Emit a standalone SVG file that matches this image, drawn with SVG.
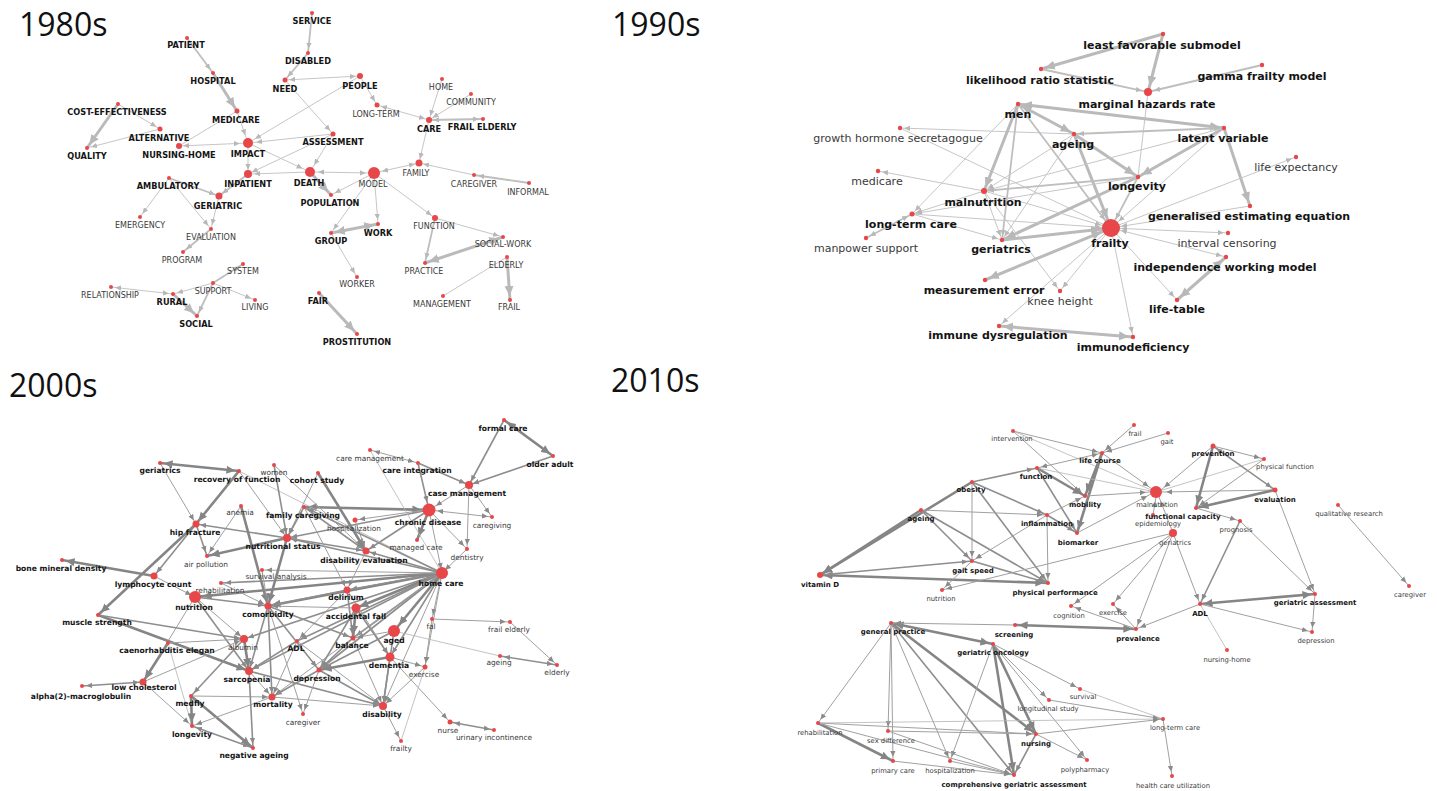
<svg xmlns="http://www.w3.org/2000/svg" width="1437" height="791" viewBox="0 0 1437 791">
<style>
.t{font-family:"Open Sans","Noto Sans",sans-serif;font-size:32px;fill:#111}
.dot{fill:#e8474a}
text.b,text.n{font-family:"DejaVu Sans",Verdana,sans-serif;text-anchor:middle}
.b{font-weight:bold;fill:#141414}
.n{fill:#3a3a3a}
.p80 .b{font-size:8.2px}.p80 .n{font-size:8px}
.p90 .b,.p90 .n{font-size:11px}
.p00 .b{font-size:7.6px}.p00 .n{font-size:7.4px}
.p10 .b{font-size:7px}.p10 .n{font-size:6.8px}
line{fill:none}
.L0,.L1{stroke:#c6c6c6;stroke-width:1}
.L2{stroke:#bebebe;stroke-width:1.8}
.L3{stroke:#bababa;stroke-width:3}
.L1,.L2{marker-end:url(#la)}
.L3{marker-end:url(#lA)}
.L1.s,.L2.s{marker-start:url(#la)}
.L3.s{marker-start:url(#lA)}
.D0{stroke:#b4b4b4;stroke-width:.8}
.D1{stroke:#a0a0a0;stroke-width:1;marker-end:url(#da)}
.D2{stroke:#8e8e8e;stroke-width:1.6;marker-end:url(#da)}
.D3{stroke:#858585;stroke-width:2.6;marker-end:url(#dA)}
.D1.s,.D2.s{marker-start:url(#da)}
.D3.s{marker-start:url(#dA)}
</style>
<defs>
<marker id="la" viewBox="0 0 10 10" refX="17" refY="5" markerWidth="6" markerHeight="6" markerUnits="userSpaceOnUse" orient="auto-start-reverse"><path d="M0,0.5L10,5L0,9.5z" fill="#b8b8b8"/></marker>
<marker id="lA" viewBox="0 0 10 10" refX="14" refY="5" markerWidth="10" markerHeight="10" markerUnits="userSpaceOnUse" orient="auto-start-reverse"><path d="M0,0.5L10,5L0,9.5z" fill="#b8b8b8"/></marker>
<marker id="da" viewBox="0 0 10 10" refX="17" refY="5" markerWidth="6" markerHeight="6" markerUnits="userSpaceOnUse" orient="auto-start-reverse"><path d="M0,0.5L10,5L0,9.5z" fill="#8a8a8a"/></marker>
<marker id="dA" viewBox="0 0 10 10" refX="14" refY="5" markerWidth="9" markerHeight="9" markerUnits="userSpaceOnUse" orient="auto-start-reverse"><path d="M0,0.5L10,5L0,9.5z" fill="#858585"/></marker>
</defs>
<rect width="1437" height="791" fill="#fff"/>
<text class="t" x="19" y="36">1980s</text>
<text class="t" x="612" y="36">1990s</text>
<text class="t" x="9" y="397">2000s</text>
<text class="t" x="611" y="392">2010s</text>

<!-- ===== 1980s ===== -->
<g id="p1980" class="p80">
<g id="e1980">
<line class="L2" x1="187" y1="38" x2="213" y2="73"/>
<line class="L3" x1="213" y1="73" x2="237" y2="111"/>
<line class="L1" x1="237" y1="111" x2="246.7" y2="139.2"/>
<line class="L0" x1="237" y1="111" x2="179" y2="146"/>
<line class="L3" x1="118" y1="104" x2="87" y2="148"/>
<line class="L1" x1="118" y1="104" x2="160" y2="129"/>
<line class="L1" x1="160" y1="129" x2="87" y2="148"/>
<line class="L1 s" x1="179" y1="146" x2="244" y2="143.2"/>
<line class="L1" x1="248" y1="143" x2="248" y2="174"/>
<line class="L1" x1="360" y1="76" x2="251.4" y2="141"/>
<line class="L1" x1="333" y1="134" x2="252" y2="142.6"/>
<line class="L1" x1="248" y1="143" x2="306.4" y2="170.3"/>
<line class="L1" x1="333" y1="134" x2="248" y2="174"/>
<line class="L1" x1="310" y1="172" x2="250" y2="174"/>
<line class="L1" x1="333" y1="134" x2="312" y2="168.6"/>
<line class="L1" x1="285" y1="80" x2="333" y2="134"/>
<line class="L2" x1="312" y1="13" x2="308" y2="53"/>
<line class="L2" x1="308" y1="53" x2="285" y2="80"/>
<line class="L1 s" x1="285" y1="80" x2="360" y2="76"/>
<line class="L1" x1="360" y1="76" x2="377" y2="105"/>
<line class="L1 s" x1="377" y1="105" x2="429" y2="120"/>
<line class="L1" x1="442" y1="79" x2="429" y2="120"/>
<line class="L1" x1="471" y1="94" x2="429" y2="120"/>
<line class="L2 s" x1="429" y1="120" x2="483" y2="119"/>
<line class="L1" x1="429" y1="120" x2="419" y2="163"/>
<line class="L1 s" x1="377.9" y1="172.1" x2="419" y2="163"/>
<line class="L1" x1="474" y1="175" x2="419" y2="163"/>
<line class="L2" x1="529" y1="183" x2="474" y2="175"/>
<line class="L1 s" x1="370" y1="173" x2="314" y2="172"/>
<line class="L3" x1="310" y1="172" x2="331" y2="195"/>
<line class="L1" x1="374" y1="173" x2="331" y2="195"/>
<line class="L1" x1="374" y1="173" x2="331" y2="233"/>
<line class="L1" x1="374" y1="173" x2="378" y2="224"/>
<line class="L1" x1="374" y1="173" x2="435" y2="218"/>
<line class="L3 s" x1="331" y1="233" x2="378" y2="224"/>
<line class="L1" x1="331" y1="233" x2="357" y2="277"/>
<line class="L2" x1="435" y1="218" x2="425" y2="263"/>
<line class="L1" x1="435" y1="218" x2="503" y2="237"/>
<line class="L3 s" x1="503" y1="237" x2="425" y2="263"/>
<line class="L0" x1="507" y1="257" x2="443" y2="296"/>
<line class="L3" x1="507" y1="257" x2="510" y2="300"/>
<line class="L3" x1="319" y1="293" x2="357" y2="334"/>
<line class="L2" x1="248" y1="174" x2="219" y2="196"/>
<line class="L2" x1="169" y1="178" x2="219" y2="196"/>
<line class="L1" x1="169" y1="178" x2="140" y2="217"/>
<line class="L1" x1="169" y1="178" x2="211" y2="229"/>
<line class="L1" x1="219" y1="196" x2="211" y2="229"/>
<line class="L2" x1="211" y1="229" x2="183" y2="252"/>
<line class="L2" x1="213" y1="283" x2="243" y2="264"/>
<line class="L1" x1="213" y1="283" x2="173" y2="294"/>
<line class="L1 s" x1="111" y1="287" x2="173" y2="294"/>
<line class="L1" x1="213" y1="283" x2="255" y2="300"/>
<line class="L2" x1="213" y1="283" x2="197" y2="316"/>
<line class="L3" x1="173" y1="294" x2="197" y2="316"/>
</g>
<g id="n80-service"><circle class="dot" cx="312" cy="13" r="2"/><text class="b" x="312" y="24">SERVICE</text></g>
<g id="n80-patient"><circle class="dot" cx="187" cy="38" r="2"/><text class="b" x="186" y="48">PATIENT</text></g>
<g id="n80-disabled"><circle class="dot" cx="308" cy="53" r="2"/><text class="b" x="308" y="64">DISABLED</text></g>
<g id="n80-hospital"><circle class="dot" cx="213" cy="73" r="2"/><text class="b" x="213" y="84">HOSPITAL</text></g>
<g id="n80-need"><circle class="dot" cx="285" cy="80" r="2.5"/><text class="b" x="285" y="92">NEED</text></g>
<g id="n80-people"><circle class="dot" cx="360" cy="76" r="3"/><text class="b" x="360" y="89">PEOPLE</text></g>
<g id="n80-home"><circle class="dot" cx="442" cy="79" r="2"/><text class="n" x="441" y="90">HOME</text></g>
<g id="n80-community"><circle class="dot" cx="471" cy="94" r="2"/><text class="n" x="471" y="105">COMMUNITY</text></g>
<g id="n80-longterm"><circle class="dot" cx="377" cy="105" r="2.5"/><text class="n" x="376" y="117">LONG-TERM</text></g>
<g id="n80-care"><circle class="dot" cx="429" cy="120" r="3"/><text class="b" x="429" y="132">CARE</text></g>
<g id="n80-frailelderly"><circle class="dot" cx="483" cy="119" r="2"/><text class="b" x="482" y="130">FRAIL ELDERLY</text></g>
<g id="n80-costeff"><circle class="dot" cx="118" cy="104" r="2"/><text class="b" x="117" y="115">COST-EFFECTIVENESS</text></g>
<g id="n80-medicare"><circle class="dot" cx="237" cy="111" r="2.5"/><text class="b" x="236" y="123">MEDICARE</text></g>
<g id="n80-alternative"><circle class="dot" cx="160" cy="129" r="2.5"/><text class="b" x="159" y="141">ALTERNATIVE</text></g>
<g id="n80-impact"><circle class="dot" cx="248" cy="143" r="5"/><text class="b" x="248" y="157">IMPACT</text></g>
<g id="n80-quality"><circle class="dot" cx="87" cy="148" r="2"/><text class="b" x="87" y="159">QUALITY</text></g>
<g id="n80-nursinghome"><circle class="dot" cx="179" cy="146" r="3"/><text class="b" x="179" y="158">NURSING-HOME</text></g>
<g id="n80-assessment"><circle class="dot" cx="333" cy="134" r="2.5"/><text class="b" x="333" y="145">ASSESSMENT</text></g>
<g id="n80-inpatient"><circle class="dot" cx="248" cy="174" r="4"/><text class="b" x="248" y="187">INPATIENT</text></g>
<g id="n80-death"><circle class="dot" cx="310" cy="172" r="5"/><text class="b" x="309" y="186">DEATH</text></g>
<g id="n80-model"><circle class="dot" cx="374" cy="173" r="6"/><text class="n" x="373" y="187">MODEL</text></g>
<g id="n80-family"><circle class="dot" cx="419" cy="163" r="3.5"/><text class="n" x="416" y="176">FAMILY</text></g>
<g id="n80-caregiver"><circle class="dot" cx="474" cy="175" r="2"/><text class="n" x="474" y="187">CAREGIVER</text></g>
<g id="n80-informal"><circle class="dot" cx="529" cy="183" r="2"/><text class="n" x="528" y="195">INFORMAL</text></g>
<g id="n80-ambulatory"><circle class="dot" cx="169" cy="178" r="2"/><text class="b" x="168" y="189">AMBULATORY</text></g>
<g id="n80-geriatric"><circle class="dot" cx="219" cy="196" r="3.5"/><text class="b" x="218" y="209">GERIATRIC</text></g>
<g id="n80-population"><circle class="dot" cx="331" cy="195" r="2"/><text class="b" x="330" y="206">POPULATION</text></g>
<g id="n80-emergency"><circle class="dot" cx="140" cy="217" r="2"/><text class="n" x="140" y="228">EMERGENCY</text></g>
<g id="n80-evaluation"><circle class="dot" cx="211" cy="229" r="2"/><text class="n" x="211" y="240">EVALUATION</text></g>
<g id="n80-function"><circle class="dot" cx="435" cy="218" r="3"/><text class="n" x="434" y="229">FUNCTION</text></g>
<g id="n80-work"><circle class="dot" cx="378" cy="224" r="2"/><text class="b" x="378" y="236">WORK</text></g>
<g id="n80-group"><circle class="dot" cx="331" cy="233" r="2"/><text class="b" x="331" y="244">GROUP</text></g>
<g id="n80-socialwork"><circle class="dot" cx="503" cy="237" r="2"/><text class="n" x="503" y="247">SOCIAL-WORK</text></g>
<g id="n80-program"><circle class="dot" cx="183" cy="252" r="2"/><text class="n" x="182" y="263">PROGRAM</text></g>
<g id="n80-elderly"><circle class="dot" cx="507" cy="257" r="2"/><text class="n" x="506" y="268">ELDERLY</text></g>
<g id="n80-practice"><circle class="dot" cx="425" cy="263" r="2"/><text class="n" x="424" y="274">PRACTICE</text></g>
<g id="n80-system"><circle class="dot" cx="243" cy="264" r="2"/><text class="n" x="243" y="274">SYSTEM</text></g>
<g id="n80-support"><circle class="dot" cx="213" cy="283" r="2"/><text class="n" x="213" y="294">SUPPORT</text></g>
<g id="n80-relationship"><circle class="dot" cx="111" cy="287" r="2"/><text class="n" x="110" y="298">RELATIONSHIP</text></g>
<g id="n80-rural"><circle class="dot" cx="173" cy="294" r="2"/><text class="b" x="172" y="305">RURAL</text></g>
<g id="n80-living"><circle class="dot" cx="255" cy="300" r="2"/><text class="n" x="255" y="310">LIVING</text></g>
<g id="n80-social"><circle class="dot" cx="197" cy="316" r="2"/><text class="b" x="196" y="327">SOCIAL</text></g>
<g id="n80-worker"><circle class="dot" cx="357" cy="277" r="2"/><text class="n" x="357" y="287">WORKER</text></g>
<g id="n80-fair"><circle class="dot" cx="319" cy="293" r="2"/><text class="b" x="318" y="304">FAIR</text></g>
<g id="n80-management"><circle class="dot" cx="443" cy="296" r="2"/><text class="n" x="442" y="307">MANAGEMENT</text></g>
<g id="n80-frail"><circle class="dot" cx="510" cy="300" r="2"/><text class="n" x="509" y="310">FRAIL</text></g>
<g id="n80-prostitution"><circle class="dot" cx="357" cy="334" r="2"/><text class="b" x="357" y="345">PROSTITUTION</text></g>
</g>

<!-- ===== 1990s ===== -->
<g id="p1990" class="p90">
<g id="e1990">
<line class="L3" x1="1163" y1="34" x2="1041" y2="69"/>
<line class="L3" x1="1163" y1="34" x2="1148.5" y2="90"/>
<line class="L2" x1="1041" y1="69" x2="1146" y2="91.6"/>
<line class="L2" x1="1262" y1="65" x2="1150" y2="91.5"/>
<line class="L0" x1="1148" y1="92" x2="1138" y2="177"/>
<line class="L3 s" x1="1018" y1="104" x2="1224" y2="128"/>
<line class="L2 s" x1="1224" y1="128" x2="1074" y2="134"/>
<line class="L1" x1="1074" y1="134" x2="900" y2="128"/>
<line class="L0" x1="900" y1="128" x2="1111" y2="228"/>
<line class="L3 s" x1="1018" y1="104" x2="1074" y2="134"/>
<line class="L1" x1="984" y1="191" x2="878" y2="171"/>
<line class="L3" x1="1018" y1="104" x2="984" y2="191"/>
<line class="L2" x1="1018" y1="104" x2="1002" y2="240"/>
<line class="L1" x1="1018" y1="104" x2="912" y2="214"/>
<line class="L2" x1="1018" y1="104" x2="1107.4" y2="223.2"/>
<line class="L1" x1="1074" y1="134" x2="984" y2="191"/>
<line class="L1" x1="1074" y1="134" x2="1002" y2="240"/>
<line class="L3" x1="1074" y1="134" x2="1138" y2="177"/>
<line class="L3" x1="1074" y1="134" x2="1108.8" y2="222.4"/>
<line class="L3" x1="1224" y1="128" x2="1138" y2="177"/>
<line class="L3" x1="1224" y1="128" x2="1250" y2="206"/>
<line class="L1" x1="1224" y1="128" x2="1115.5" y2="224"/>
<line class="L1" x1="1224" y1="128" x2="984" y2="191"/>
<line class="L2" x1="1138" y1="177" x2="1113.8" y2="222.7"/>
<line class="L2" x1="1138" y1="177" x2="984" y2="191"/>
<line class="L3" x1="1138" y1="177" x2="1002" y2="240"/>
<line class="L1" x1="1138" y1="177" x2="912" y2="214"/>
<line class="L1" x1="984" y1="191" x2="912" y2="214"/>
<line class="L1" x1="984" y1="191" x2="1002" y2="240"/>
<line class="L1" x1="984" y1="191" x2="1105.2" y2="226.3"/>
<line class="L1" x1="984" y1="191" x2="1060" y2="291"/>
<line class="L2 s" x1="912" y1="214" x2="866" y2="238"/>
<line class="L1" x1="912" y1="214" x2="1002" y2="240"/>
<line class="L1" x1="912" y1="214" x2="1105" y2="227.6"/>
<line class="L3" x1="1002" y1="240" x2="1105" y2="228.7"/>
<line class="L3 s" x1="1105.5" y1="230.3" x2="985" y2="280"/>
<line class="L1" x1="1111" y1="228" x2="1060" y2="291"/>
<line class="L1" x1="1111" y1="228" x2="999" y2="326"/>
<line class="L1" x1="1111" y1="228" x2="1133" y2="337"/>
<line class="L1" x1="1111" y1="228" x2="1177" y2="300"/>
<line class="L1 s" x1="1117" y1="228.3" x2="1228" y2="233"/>
<line class="L1 s" x1="1116.8" y1="229.5" x2="1226" y2="257"/>
<line class="L1" x1="1250" y1="206" x2="1117" y2="227"/>
<line class="L1" x1="1111" y1="228" x2="1296" y2="157"/>
<line class="L3 s" x1="1226" y1="257" x2="1177" y2="300"/>
<line class="L3 s" x1="999" y1="326" x2="1133" y2="337"/>
</g>
<g id="n90-lfs"><circle class="dot" cx="1163" cy="34" r="2.2"/><text class="b" x="1162" y="49">least favorable submodel</text></g>
<g id="n90-lrs"><circle class="dot" cx="1041" cy="69" r="2.2"/><text class="b" x="1040" y="84">likelihood ratio statistic</text></g>
<g id="n90-gfm"><circle class="dot" cx="1262" cy="65" r="2.2"/><text class="b" x="1262" y="80">gamma frailty model</text></g>
<g id="n90-mhr"><circle class="dot" cx="1148" cy="92" r="4"/><text class="b" x="1147" y="108">marginal hazards rate</text></g>
<g id="n90-men"><circle class="dot" cx="1018" cy="104" r="2.2"/><text class="b" x="1018" y="118">men</text></g>
<g id="n90-ghs"><circle class="dot" cx="900" cy="128" r="2.2"/><text class="n" x="898" y="142">growth hormone secretagogue</text></g>
<g id="n90-ageing"><circle class="dot" cx="1074" cy="134" r="2.2"/><text class="b" x="1073" y="148">ageing</text></g>
<g id="n90-lv"><circle class="dot" cx="1224" cy="128" r="2.2"/><text class="b" x="1223" y="142">latent variable</text></g>
<g id="n90-le"><circle class="dot" cx="1296" cy="157" r="2.2"/><text class="n" x="1296" y="171">life expectancy</text></g>
<g id="n90-medicare"><circle class="dot" cx="878" cy="171" r="2.2"/><text class="n" x="877" y="185">medicare</text></g>
<g id="n90-longevity"><circle class="dot" cx="1138" cy="177" r="2.2"/><text class="b" x="1137" y="190">longevity</text></g>
<g id="n90-malnutrition"><circle class="dot" cx="984" cy="191" r="3"/><text class="b" x="983" y="206">malnutrition</text></g>
<g id="n90-gee"><circle class="dot" cx="1250" cy="206" r="2.2"/><text class="b" x="1249" y="220">generalised estimating equation</text></g>
<g id="n90-ltc"><circle class="dot" cx="912" cy="214" r="2.5"/><text class="b" x="911" y="228">long-term care</text></g>
<g id="n90-frailty"><circle class="dot" cx="1111" cy="228" r="9"/><text class="b" x="1110" y="247">frailty</text></g>
<g id="n90-ic"><circle class="dot" cx="1228" cy="233" r="2.2"/><text class="n" x="1227" y="247">interval censoring</text></g>
<g id="n90-ms"><circle class="dot" cx="866" cy="238" r="2.2"/><text class="n" x="866" y="252">manpower support</text></g>
<g id="n90-geriatrics"><circle class="dot" cx="1002" cy="240" r="2.2"/><text class="b" x="1001" y="253">geriatrics</text></g>
<g id="n90-iwm"><circle class="dot" cx="1226" cy="257" r="2.2"/><text class="b" x="1225" y="271">independence working model</text></g>
<g id="n90-me"><circle class="dot" cx="985" cy="280" r="2.2"/><text class="b" x="984" y="294">measurement error</text></g>
<g id="n90-kh"><circle class="dot" cx="1060" cy="291" r="2.2"/><text class="n" x="1060" y="305">knee height</text></g>
<g id="n90-lt"><circle class="dot" cx="1177" cy="300" r="2.2"/><text class="b" x="1177" y="313">life-table</text></g>
<g id="n90-id"><circle class="dot" cx="999" cy="326" r="2.2"/><text class="b" x="998" y="339">immune dysregulation</text></g>
<g id="n90-imd"><circle class="dot" cx="1133" cy="337" r="2.2"/><text class="b" x="1133" y="351">immunodeficiency</text></g>
</g>

<!-- ===== 2000s ===== -->
<g id="p2000" class="p00">
<g id="e2000">
<line class="D3 s" x1="504" y1="420" x2="553" y2="456"/>
<line class="D2" x1="504" y1="420" x2="469" y2="485"/>
<line class="D2" x1="553" y1="456" x2="469" y2="485"/>
<line class="D1 s" x1="370" y1="450" x2="418" y2="463"/>
<line class="D2" x1="418" y1="463" x2="469" y2="485"/>
<line class="D2" x1="418" y1="463" x2="428.1" y2="506.1"/>
<line class="D1" x1="469" y1="485" x2="432.4" y2="507.9"/>
<line class="D1" x1="469" y1="485" x2="492" y2="517"/>
<line class="D1" x1="469" y1="485" x2="467" y2="549"/>
<line class="D1 s" x1="433" y1="510.4" x2="492" y2="517"/>
<line class="D1" x1="429" y1="510" x2="467" y2="549"/>
<line class="D3 s" x1="425" y1="509.9" x2="304" y2="507"/>
<line class="D3" x1="429" y1="510" x2="417" y2="540"/>
<line class="D2" x1="429" y1="510" x2="366" y2="551"/>
<line class="D2" x1="429" y1="510" x2="287" y2="538"/>
<line class="D1" x1="429" y1="510" x2="442" y2="573"/>
<line class="D1" x1="425" y1="510" x2="355" y2="520"/>
<line class="D1" x1="467" y1="549" x2="442" y2="573"/>
<line class="D0" x1="370" y1="450" x2="442" y2="573"/>
<line class="D3 s" x1="160" y1="463" x2="239" y2="471"/>
<line class="D1" x1="160" y1="463" x2="196" y2="524"/>
<line class="D3" x1="239" y1="471" x2="196" y2="524"/>
<line class="D0" x1="239" y1="471" x2="442" y2="573"/>
<line class="D1" x1="239" y1="471" x2="287" y2="538"/>
<line class="D2" x1="274" y1="465" x2="287" y2="538"/>
<line class="D1" x1="274" y1="465" x2="366" y2="551"/>
<line class="D3" x1="318" y1="473" x2="366" y2="551"/>
<line class="D1" x1="318" y1="473" x2="287" y2="538"/>
<line class="D1" x1="355" y1="520" x2="366" y2="551"/>
<line class="D2" x1="196" y1="524" x2="207" y2="556"/>
<line class="D1" x1="241" y1="506" x2="207" y2="556"/>
<line class="D3" x1="287" y1="538" x2="207" y2="556"/>
<line class="D2" x1="287" y1="538" x2="196" y2="524"/>
<line class="D2" x1="196" y1="524" x2="154" y2="576"/>
<line class="D3" x1="154" y1="576" x2="62" y2="560"/>
<line class="D3" x1="196" y1="524" x2="98" y2="615"/>
<line class="D2" x1="442" y1="573" x2="287" y2="538"/>
<line class="D2" x1="442" y1="573" x2="304" y2="507"/>
<line class="D3" x1="442" y1="573" x2="268" y2="606"/>
<line class="D2" x1="442" y1="573" x2="347" y2="590"/>
<line class="D3" x1="442" y1="573" x2="356" y2="608"/>
<line class="D3" x1="442" y1="573" x2="199" y2="596.6"/>
<line class="D2" x1="442" y1="573" x2="221" y2="583"/>
<line class="D1" x1="442" y1="573" x2="262" y2="570"/>
<line class="D2" x1="442" y1="573" x2="297" y2="641"/>
<line class="D2" x1="442" y1="573" x2="319" y2="670"/>
<line class="D2" x1="442" y1="573" x2="353" y2="638"/>
<line class="D2" x1="442" y1="573" x2="390" y2="657"/>
<line class="D3" x1="442" y1="573" x2="396.5" y2="628"/>
<line class="D2" x1="442" y1="573" x2="249" y2="671"/>
<line class="D1" x1="442" y1="573" x2="272" y2="697"/>
<line class="D2" x1="442" y1="573" x2="366" y2="551"/>
<line class="D1" x1="442" y1="573" x2="383" y2="706"/>
<line class="D1" x1="442" y1="573" x2="432" y2="619"/>
<line class="D1" x1="442" y1="573" x2="425" y2="667"/>
<line class="D2" x1="442" y1="573" x2="244" y2="639"/>
<line class="D3" x1="287" y1="538" x2="268" y2="606"/>
<line class="D2" x1="287" y1="538" x2="366" y2="551"/>
<line class="D2 s" x1="304" y1="507" x2="287" y2="538"/>
<line class="D2" x1="304" y1="507" x2="366" y2="551"/>
<line class="D1" x1="304" y1="507" x2="347" y2="590"/>
<line class="D3" x1="241" y1="506" x2="268" y2="606"/>
<line class="D1" x1="366" y1="551" x2="347" y2="590"/>
<line class="D2" x1="347" y1="590" x2="268" y2="606"/>
<line class="D2" x1="347" y1="590" x2="353" y2="638"/>
<line class="D1" x1="347" y1="590" x2="297" y2="641"/>
<line class="D1" x1="347" y1="590" x2="390" y2="657"/>
<line class="D3" x1="356" y1="608" x2="353" y2="638"/>
<line class="D2" x1="356" y1="608" x2="390" y2="657"/>
<line class="D2" x1="356" y1="608" x2="319" y2="670"/>
<line class="D1" x1="356" y1="608" x2="268" y2="606"/>
<line class="D2" x1="268" y1="606" x2="249" y2="671"/>
<line class="D2" x1="268" y1="606" x2="272" y2="697"/>
<line class="D2" x1="268" y1="606" x2="319" y2="670"/>
<line class="D1" x1="268" y1="606" x2="303" y2="714"/>
<line class="D2" x1="268" y1="606" x2="353" y2="638"/>
<line class="D2" x1="195" y1="597" x2="268" y2="606"/>
<line class="D1" x1="195" y1="597" x2="244" y2="639"/>
<line class="D2" x1="195" y1="597" x2="249" y2="671"/>
<line class="D1" x1="195" y1="597" x2="143" y2="682"/>
<line class="D1" x1="154" y1="576" x2="195" y2="597"/>
<line class="D1" x1="221" y1="583" x2="268" y2="606"/>
<line class="D1" x1="262" y1="570" x2="268" y2="606"/>
<line class="D3" x1="98" y1="615" x2="249" y2="671"/>
<line class="D2" x1="98" y1="615" x2="244" y2="639"/>
<line class="D3" x1="168" y1="643" x2="143" y2="682"/>
<line class="D1" x1="168" y1="643" x2="244" y2="639"/>
<line class="D0" x1="168" y1="643" x2="192" y2="726"/>
<line class="D2 s" x1="82" y1="686" x2="143" y2="682"/>
<line class="D1" x1="143" y1="682" x2="192" y2="726"/>
<line class="D1" x1="143" y1="682" x2="244" y2="639"/>
<line class="D2" x1="244" y1="639" x2="191" y2="696"/>
<line class="D3" x1="244" y1="639" x2="249" y2="671"/>
<line class="D3" x1="191" y1="696" x2="192" y2="726"/>
<line class="D3" x1="191" y1="696" x2="253" y2="748"/>
<line class="D1" x1="191" y1="696" x2="272" y2="697"/>
<line class="D2 s" x1="192" y1="726" x2="253" y2="748"/>
<line class="D1" x1="272" y1="697" x2="192" y2="726"/>
<line class="D2" x1="249" y1="671" x2="253" y2="748"/>
<line class="D1" x1="249" y1="671" x2="272" y2="697"/>
<line class="D2" x1="249" y1="671" x2="383" y2="706"/>
<line class="D1" x1="297" y1="641" x2="272" y2="697"/>
<line class="D1" x1="297" y1="641" x2="383" y2="706"/>
<line class="D2" x1="297" y1="641" x2="249" y2="671"/>
<line class="D1" x1="353" y1="638" x2="383" y2="706"/>
<line class="D2" x1="353" y1="638" x2="319" y2="670"/>
<line class="D2" x1="319" y1="670" x2="383" y2="706"/>
<line class="D1" x1="319" y1="670" x2="303" y2="714"/>
<line class="D2" x1="319" y1="670" x2="272" y2="697"/>
<line class="D2" x1="390" y1="657" x2="383" y2="706"/>
<line class="D3" x1="390" y1="657" x2="319" y2="670"/>
<line class="D1" x1="390" y1="657" x2="425" y2="667"/>
<line class="D1" x1="390" y1="657" x2="450" y2="722"/>
<line class="D2" x1="394" y1="631" x2="383" y2="706"/>
<line class="D0" x1="394" y1="631" x2="500" y2="656"/>
<line class="D2" x1="394" y1="631" x2="319" y2="670"/>
<line class="D1" x1="394" y1="631" x2="353" y2="638"/>
<line class="D1" x1="383" y1="706" x2="401" y2="741"/>
<line class="D0" x1="425" y1="667" x2="401" y2="741"/>
<line class="D1" x1="425" y1="667" x2="383" y2="706"/>
<line class="D1" x1="432" y1="619" x2="510" y2="622"/>
<line class="D1" x1="432" y1="619" x2="425" y2="667"/>
<line class="D1" x1="510" y1="622" x2="557" y2="665"/>
<line class="D2 s" x1="500" y1="656" x2="557" y2="665"/>
<line class="D2 s" x1="450" y1="722" x2="494" y2="730"/>
<line class="D1" x1="272" y1="697" x2="383" y2="706"/>
</g>
<g id="n00-formalcare"><circle class="dot" cx="504" cy="420" r="2"/><text class="b" x="503" y="431">formal care</text></g>
<g id="n00-olderadult"><circle class="dot" cx="553" cy="456" r="2"/><text class="b" x="550" y="467">older adult</text></g>
<g id="n00-caremgmt"><circle class="dot" cx="370" cy="450" r="2"/><text class="n" x="370" y="461">care management</text></g>
<g id="n00-careint"><circle class="dot" cx="418" cy="463" r="2"/><text class="b" x="417" y="473">care integration</text></g>
<g id="n00-geriatrics"><circle class="dot" cx="160" cy="463" r="2"/><text class="b" x="160" y="473">geriatrics</text></g>
<g id="n00-recovery"><circle class="dot" cx="239" cy="471" r="2"/><text class="b" x="237" y="482">recovery of function</text></g>
<g id="n00-women"><circle class="dot" cx="274" cy="465" r="2"/><text class="n" x="274" y="475">women</text></g>
<g id="n00-cohort"><circle class="dot" cx="318" cy="473" r="2"/><text class="b" x="317" y="483">cohort study</text></g>
<g id="n00-casemgmt"><circle class="dot" cx="469" cy="485" r="4"/><text class="b" x="467" y="496">case management</text></g>
<g id="n00-chronic"><circle class="dot" cx="429" cy="510" r="6.5"/><text class="b" x="428" y="525">chronic disease</text></g>
<g id="n00-anemia"><circle class="dot" cx="241" cy="506" r="2"/><text class="n" x="240" y="515">anemia</text></g>
<g id="n00-familycg"><circle class="dot" cx="304" cy="507" r="2"/><text class="b" x="303" y="518">family caregiving</text></g>
<g id="n00-hosp"><circle class="dot" cx="355" cy="520" r="2.5"/><text class="n" x="354" y="531">hospitalization</text></g>
<g id="n00-caregiving"><circle class="dot" cx="492" cy="517" r="2"/><text class="n" x="492" y="528">caregiving</text></g>
<g id="n00-hip"><circle class="dot" cx="196" cy="524" r="3.5"/><text class="b" x="195" y="535">hip fracture</text></g>
<g id="n00-nutstatus"><circle class="dot" cx="287" cy="538" r="4"/><text class="b" x="283" y="549">nutritional status</text></g>
<g id="n00-managed"><circle class="dot" cx="417" cy="540" r="2"/><text class="n" x="416" y="550">managed care</text></g>
<g id="n00-diseval"><circle class="dot" cx="366" cy="551" r="3.5"/><text class="b" x="364" y="563">disability evaluation</text></g>
<g id="n00-dentistry"><circle class="dot" cx="467" cy="549" r="2"/><text class="n" x="467" y="560">dentistry</text></g>
<g id="n00-air"><circle class="dot" cx="207" cy="556" r="2"/><text class="n" x="206" y="567">air pollution</text></g>
<g id="n00-bmd"><circle class="dot" cx="62" cy="560" r="2"/><text class="b" x="61" y="571">bone mineral density</text></g>
<g id="n00-survival"><circle class="dot" cx="262" cy="570" r="2"/><text class="n" x="276" y="579">survival analysis</text></g>
<g id="n00-homecare"><circle class="dot" cx="442" cy="573" r="6"/><text class="b" x="441" y="586">home care</text></g>
<g id="n00-lympho"><circle class="dot" cx="154" cy="576" r="3.5"/><text class="b" x="153" y="587">lymphocyte count</text></g>
<g id="n00-rehab"><circle class="dot" cx="221" cy="583" r="2"/><text class="n" x="220" y="593">rehabilitation</text></g>
<g id="n00-nutrition"><circle class="dot" cx="195" cy="597" r="6"/><text class="b" x="194" y="610">nutrition</text></g>
<g id="n00-delirium"><circle class="dot" cx="347" cy="590" r="3.5"/><text class="b" x="346" y="600">delirium</text></g>
<g id="n00-comorb"><circle class="dot" cx="268" cy="606" r="3.5"/><text class="b" x="268" y="617">comorbidity</text></g>
<g id="n00-accfall"><circle class="dot" cx="356" cy="608" r="4.5"/><text class="b" x="356" y="619">accidental fall</text></g>
<g id="n00-muscle"><circle class="dot" cx="98" cy="615" r="2"/><text class="b" x="97" y="625">muscle strength</text></g>
<g id="n00-fal"><circle class="dot" cx="432" cy="619" r="2"/><text class="n" x="431" y="629">fal</text></g>
<g id="n00-aged"><circle class="dot" cx="394" cy="631" r="6"/><text class="b" x="394" y="643">aged</text></g>
<g id="n00-frailelderly"><circle class="dot" cx="510" cy="622" r="2"/><text class="n" x="509" y="632">frail elderly</text></g>
<g id="n00-albumin"><circle class="dot" cx="244" cy="639" r="4"/><text class="n" x="243" y="650">albumin</text></g>
<g id="n00-adl"><circle class="dot" cx="297" cy="641" r="2"/><text class="b" x="296" y="651">ADL</text></g>
<g id="n00-balance"><circle class="dot" cx="353" cy="638" r="2.5"/><text class="b" x="352" y="648">balance</text></g>
<g id="n00-celegan"><circle class="dot" cx="168" cy="643" r="2"/><text class="b" x="167" y="653">caenorhabditis elegan</text></g>
<g id="n00-dementia"><circle class="dot" cx="390" cy="657" r="4.5"/><text class="b" x="389" y="668">dementia</text></g>
<g id="n00-ageing"><circle class="dot" cx="500" cy="656" r="2"/><text class="n" x="499" y="665">ageing</text></g>
<g id="n00-sarco"><circle class="dot" cx="249" cy="671" r="4"/><text class="b" x="247" y="682">sarcopenia</text></g>
<g id="n00-depression"><circle class="dot" cx="319" cy="670" r="2.5"/><text class="b" x="317" y="681">depression</text></g>
<g id="n00-exercise"><circle class="dot" cx="425" cy="667" r="2.5"/><text class="n" x="424" y="677">exercise</text></g>
<g id="n00-elderly"><circle class="dot" cx="557" cy="665" r="2"/><text class="n" x="557" y="675">elderly</text></g>
<g id="n00-lowchol"><circle class="dot" cx="143" cy="682" r="3.5"/><text class="b" x="144" y="690">low cholesterol</text></g>
<g id="n00-alpha"><circle class="dot" cx="82" cy="686" r="2"/><text class="b" x="81" y="699">alpha(2)-macroglobulin</text></g>
<g id="n00-medfly"><circle class="dot" cx="191" cy="696" r="2"/><text class="b" x="190" y="706">medfly</text></g>
<g id="n00-mortality"><circle class="dot" cx="272" cy="697" r="3.5"/><text class="b" x="273" y="707">mortality</text></g>
<g id="n00-disability"><circle class="dot" cx="383" cy="706" r="4"/><text class="b" x="382" y="717">disability</text></g>
<g id="n00-caregiver"><circle class="dot" cx="303" cy="714" r="2"/><text class="n" x="303" y="725">caregiver</text></g>
<g id="n00-longevity"><circle class="dot" cx="192" cy="726" r="2"/><text class="b" x="192" y="737">longevity</text></g>
<g id="n00-nurse"><circle class="dot" cx="450" cy="722" r="2.5"/><text class="n" x="448" y="733">nurse</text></g>
<g id="n00-urinary"><circle class="dot" cx="494" cy="730" r="2"/><text class="n" x="494" y="740">urinary incontinence</text></g>
<g id="n00-negageing"><circle class="dot" cx="253" cy="748" r="2"/><text class="b" x="254" y="758">negative ageing</text></g>
<g id="n00-frailty"><circle class="dot" cx="401" cy="741" r="2"/><text class="n" x="401" y="751">frailty</text></g>
</g>

<!-- ===== 2010s ===== -->
<g id="p2010" class="p10">
<g id="e2010">
<line class="D1" x1="1013" y1="431" x2="1102" y2="453"/>
<line class="D1" x1="1013" y1="431" x2="1085" y2="496"/>
<line class="D0" x1="1013" y1="431" x2="1156" y2="492"/>
<line class="D1 s" x1="1037" y1="468" x2="1102" y2="453"/>
<line class="D3" x1="1037" y1="468" x2="1085" y2="496"/>
<line class="D2" x1="1037" y1="468" x2="1077" y2="533"/>
<line class="D3" x1="1102" y1="453" x2="1085" y2="496"/>
<line class="D3" x1="1102" y1="453" x2="1077" y2="533"/>
<line class="D2" x1="972" y1="482" x2="1037" y2="468"/>
<line class="D2" x1="972" y1="482" x2="1047" y2="515"/>
<line class="D1" x1="972" y1="482" x2="972" y2="561"/>
<line class="D2" x1="972" y1="482" x2="1048" y2="583"/>
<line class="D3" x1="972" y1="482" x2="820" y2="575"/>
<line class="D3" x1="921" y1="510" x2="820" y2="575"/>
<line class="D3 s" x1="820" y1="575" x2="1048" y2="583"/>
<line class="D2" x1="820" y1="575" x2="972" y2="561"/>
<line class="D2" x1="921" y1="510" x2="972" y2="561"/>
<line class="D2" x1="921" y1="510" x2="1048" y2="583"/>
<line class="D1" x1="921" y1="510" x2="1047" y2="515"/>
<line class="D2" x1="1047" y1="515" x2="1077" y2="533"/>
<line class="D1" x1="1047" y1="515" x2="972" y2="561"/>
<line class="D1" x1="1047" y1="515" x2="1085" y2="496"/>
<line class="D1" x1="1047" y1="515" x2="1048" y2="583"/>
<line class="D2" x1="972" y1="561" x2="1048" y2="583"/>
<line class="D1" x1="972" y1="561" x2="942" y2="590"/>
<line class="D1" x1="1134" y1="425" x2="1102" y2="453"/>
<line class="D1" x1="1168" y1="433" x2="1102" y2="453"/>
<line class="D1" x1="1102" y1="453" x2="1152" y2="489"/>
<line class="D1" x1="1085" y1="496" x2="1150" y2="492"/>
<line class="D0" x1="1037" y1="468" x2="1156" y2="492"/>
<line class="D1" x1="1213" y1="446" x2="1161" y2="490"/>
<line class="D1" x1="1275" y1="490" x2="1162" y2="492"/>
<line class="D0" x1="1264" y1="459" x2="1156" y2="492"/>
<line class="D1" x1="1153" y1="515" x2="1156" y2="497"/>
<line class="D1" x1="1173" y1="533" x2="1159" y2="497"/>
<line class="D1" x1="1077" y1="533" x2="1151" y2="494"/>
<line class="D2 s" x1="1213" y1="446" x2="1275" y2="490"/>
<line class="D3" x1="1213" y1="446" x2="1196" y2="508"/>
<line class="D1" x1="1213" y1="446" x2="1264" y2="459"/>
<line class="D3" x1="1275" y1="490" x2="1196" y2="508"/>
<line class="D1" x1="1264" y1="459" x2="1196" y2="508"/>
<line class="D1" x1="1275" y1="490" x2="1315" y2="594"/>
<line class="D1" x1="1196" y1="508" x2="1240" y2="521"/>
<line class="D1" x1="1338" y1="505" x2="1409" y2="586"/>
<line class="D1" x1="1173" y1="533" x2="942" y2="590"/>
<line class="D1" x1="1173" y1="533" x2="1071" y2="606"/>
<line class="D1" x1="1173" y1="533" x2="1113" y2="604"/>
<line class="D1" x1="1173" y1="533" x2="1136" y2="629"/>
<line class="D1" x1="1173" y1="533" x2="1200" y2="604"/>
<line class="D2" x1="1240" y1="521" x2="1200" y2="604"/>
<line class="D1" x1="1240" y1="521" x2="1315" y2="594"/>
<line class="D3 s" x1="1200" y1="604" x2="1315" y2="594"/>
<line class="D1" x1="1315" y1="594" x2="1312" y2="632"/>
<line class="D1" x1="1200" y1="604" x2="1136" y2="629"/>
<line class="D0" x1="1200" y1="604" x2="1227" y2="650"/>
<line class="D1" x1="1200" y1="604" x2="1312" y2="632"/>
<line class="D3 s" x1="1136" y1="629" x2="1015" y2="625"/>
<line class="D1" x1="1136" y1="629" x2="1113" y2="604"/>
<line class="D1" x1="1136" y1="629" x2="1071" y2="606"/>
<line class="D3 s" x1="891" y1="623" x2="993" y2="644"/>
<line class="D3" x1="891" y1="623" x2="1036" y2="734"/>
<line class="D2" x1="891" y1="623" x2="1014" y2="775"/>
<line class="D1" x1="891" y1="623" x2="818" y2="723"/>
<line class="D1" x1="891" y1="623" x2="893" y2="761"/>
<line class="D1" x1="891" y1="623" x2="950" y2="761"/>
<line class="D1" x1="891" y1="623" x2="888" y2="731"/>
<line class="D3" x1="993" y1="644" x2="1036" y2="734"/>
<line class="D3" x1="993" y1="644" x2="1014" y2="775"/>
<line class="D1" x1="993" y1="644" x2="1080" y2="689"/>
<line class="D1" x1="993" y1="644" x2="1049" y2="700"/>
<line class="D1" x1="993" y1="644" x2="1087" y2="760"/>
<line class="D1" x1="993" y1="644" x2="950" y2="761"/>
<line class="D3" x1="818" y1="723" x2="893" y2="761"/>
<line class="D1" x1="818" y1="723" x2="1014" y2="775"/>
<line class="D1" x1="818" y1="723" x2="1036" y2="734"/>
<line class="D0" x1="818" y1="723" x2="1163" y2="719"/>
<line class="D1" x1="888" y1="731" x2="1036" y2="734"/>
<line class="D1" x1="888" y1="731" x2="1014" y2="775"/>
<line class="D1" x1="1036" y1="734" x2="1163" y2="719"/>
<line class="D1" x1="1036" y1="734" x2="1087" y2="760"/>
<line class="D2" x1="1036" y1="734" x2="1014" y2="775"/>
<line class="D1" x1="893" y1="761" x2="1014" y2="775"/>
<line class="D1" x1="950" y1="761" x2="1014" y2="775"/>
<line class="D1" x1="1163" y1="719" x2="1172" y2="776"/>
<line class="D1" x1="1049" y1="700" x2="1163" y2="719"/>
<line class="D0" x1="1080" y1="689" x2="1163" y2="719"/>
<line class="D1" x1="1015" y1="625" x2="891" y2="623"/>
</g>
<g id="n10-intervention"><circle class="dot" cx="1013" cy="431" r="2"/><text class="n" x="1012" y="441">intervention</text></g>
<g id="n10-frail"><circle class="dot" cx="1134" cy="425" r="2"/><text class="n" x="1135" y="436">frail</text></g>
<g id="n10-gait"><circle class="dot" cx="1168" cy="433" r="2"/><text class="n" x="1167" y="444">gait</text></g>
<g id="n10-prevention"><circle class="dot" cx="1213" cy="446" r="2.5"/><text class="b" x="1213" y="456">prevention</text></g>
<g id="n10-lifecourse"><circle class="dot" cx="1102" cy="453" r="2"/><text class="b" x="1100" y="463">life course</text></g>
<g id="n10-physfunc"><circle class="dot" cx="1264" cy="459" r="2"/><text class="n" x="1285" y="469">physical function</text></g>
<g id="n10-function"><circle class="dot" cx="1037" cy="468" r="2"/><text class="b" x="1036" y="479">function</text></g>
<g id="n10-obesity"><circle class="dot" cx="972" cy="482" r="2"/><text class="b" x="971" y="492">obesity</text></g>
<g id="n10-malnutrition"><circle class="dot" cx="1156" cy="492" r="6"/><text class="n" x="1157" y="507">malnutrition</text></g>
<g id="n10-evaluation"><circle class="dot" cx="1275" cy="490" r="2.5"/><text class="b" x="1275" y="502">evaluation</text></g>
<g id="n10-mobility"><circle class="dot" cx="1085" cy="496" r="2"/><text class="b" x="1085" y="507">mobility</text></g>
<g id="n10-ageing"><circle class="dot" cx="921" cy="510" r="2"/><text class="b" x="921" y="521">ageing</text></g>
<g id="n10-inflammation"><circle class="dot" cx="1047" cy="515" r="2"/><text class="b" x="1047" y="526">inflammation</text></g>
<g id="n10-epidemiology"><circle class="dot" cx="1153" cy="515" r="2"/><text class="n" x="1158" y="526">epidemiology</text></g>
<g id="n10-funccap"><circle class="dot" cx="1196" cy="508" r="2"/><text class="b" x="1183" y="519">functional capacity</text></g>
<g id="n10-qualres"><circle class="dot" cx="1338" cy="505" r="2"/><text class="n" x="1349" y="516">qualitative research</text></g>
<g id="n10-biomarker"><circle class="dot" cx="1077" cy="533" r="2"/><text class="b" x="1078" y="545">biomarker</text></g>
<g id="n10-prognosis"><circle class="dot" cx="1240" cy="521" r="2"/><text class="n" x="1236" y="532">prognosis</text></g>
<g id="n10-geriatrics"><circle class="dot" cx="1173" cy="533" r="4"/><text class="n" x="1175" y="545">geriatrics</text></g>
<g id="n10-gaitspeed"><circle class="dot" cx="972" cy="561" r="2"/><text class="b" x="973" y="573">gait speed</text></g>
<g id="n10-caregiver"><circle class="dot" cx="1409" cy="586" r="2"/><text class="n" x="1410" y="597">caregiver</text></g>
<g id="n10-vitd"><circle class="dot" cx="820" cy="575" r="3"/><text class="b" x="820" y="587">vitamin D</text></g>
<g id="n10-nutrition"><circle class="dot" cx="942" cy="590" r="2"/><text class="n" x="941" y="601">nutrition</text></g>
<g id="n10-physperf"><circle class="dot" cx="1048" cy="583" r="2"/><text class="b" x="1055" y="595">physical performance</text></g>
<g id="n10-gerass"><circle class="dot" cx="1315" cy="594" r="2"/><text class="b" x="1315" y="605">geriatric assessment</text></g>
<g id="n10-adl"><circle class="dot" cx="1200" cy="604" r="2"/><text class="b" x="1200" y="616">ADL</text></g>
<g id="n10-cognition"><circle class="dot" cx="1071" cy="606" r="2"/><text class="n" x="1069" y="618">cognition</text></g>
<g id="n10-exercise"><circle class="dot" cx="1113" cy="604" r="2"/><text class="n" x="1113" y="615">exercise</text></g>
<g id="n10-genpractice"><circle class="dot" cx="891" cy="623" r="2"/><text class="b" x="893" y="634">general practice</text></g>
<g id="n10-screening"><circle class="dot" cx="1015" cy="625" r="2"/><text class="b" x="1014" y="637">screening</text></g>
<g id="n10-prevalence"><circle class="dot" cx="1136" cy="629" r="2"/><text class="b" x="1138" y="641">prevalence</text></g>
<g id="n10-depression"><circle class="dot" cx="1312" cy="632" r="2"/><text class="n" x="1316" y="643">depression</text></g>
<g id="n10-gerocol"><circle class="dot" cx="993" cy="644" r="2"/><text class="b" x="993" y="655">geriatric oncology</text></g>
<g id="n10-nursinghome"><circle class="dot" cx="1227" cy="650" r="2"/><text class="n" x="1227" y="662">nursing-home</text></g>
<g id="n10-survival"><circle class="dot" cx="1080" cy="689" r="2"/><text class="n" x="1083" y="699">survival</text></g>
<g id="n10-longit"><circle class="dot" cx="1049" cy="700" r="2"/><text class="n" x="1048" y="711">longitudinal study</text></g>
<g id="n10-ltc"><circle class="dot" cx="1163" cy="719" r="2"/><text class="n" x="1175" y="730">long-term care</text></g>
<g id="n10-rehab"><circle class="dot" cx="818" cy="723" r="2"/><text class="n" x="820" y="735">rehabilitation</text></g>
<g id="n10-sexdiff"><circle class="dot" cx="888" cy="731" r="2"/><text class="n" x="891" y="743">sex difference</text></g>
<g id="n10-nursing"><circle class="dot" cx="1036" cy="734" r="2"/><text class="b" x="1036" y="746">nursing</text></g>
<g id="n10-primary"><circle class="dot" cx="893" cy="761" r="2"/><text class="n" x="893" y="773">primary care</text></g>
<g id="n10-hosp"><circle class="dot" cx="950" cy="761" r="2"/><text class="n" x="950" y="773">hospitalization</text></g>
<g id="n10-polyph"><circle class="dot" cx="1087" cy="760" r="2"/><text class="n" x="1085" y="772">polypharmacy</text></g>
<g id="n10-cga"><circle class="dot" cx="1014" cy="775" r="2"/><text class="b" x="1014" y="787">comprehensive geriatric assessment</text></g>
<g id="n10-hcu"><circle class="dot" cx="1172" cy="776" r="2"/><text class="n" x="1173" y="788">health care utilization</text></g>
</g>
</svg>
